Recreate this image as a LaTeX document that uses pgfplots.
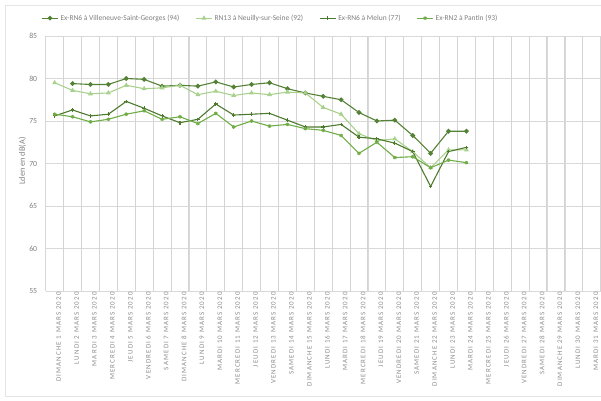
\documentclass[border=0pt]{standalone}
\usepackage{pgfplots}
\pgfplotsset{compat=1.18}
\usepackage{fontspec}
\setmainfont{Carlito}
\newfontfamily\xlab[LetterSpace=16]{Carlito}
\definecolor{cA}{HTML}{548235}
\definecolor{cB}{HTML}{A9D18E}
\definecolor{cC}{HTML}{4E7A2E}
\definecolor{cD}{HTML}{70AD47}
\definecolor{gridc}{HTML}{D9D9D9}
\definecolor{gridv}{HTML}{D4D4D4}
\definecolor{txt}{HTML}{7F7F7F}
\definecolor{txtl}{HTML}{8C8C8C}
\begin{document}
\begin{tikzpicture}[x=1pt,y=1pt]
\useasboundingbox (0,0) rectangle (601,400);
\draw[gridc!70,line width=0.6pt] (601,395) -- (5,395) -- (5,4) -- (601,4);
\begin{axis}[
  at={(45.7pt,109pt)}, anchor=south west,
  scale only axis, width=555pt, height=255pt,
  xmin=0.5, xmax=31.5, ymin=55, ymax=85,
  ytick={55,60,...,85},
  xtick={0.5,1.5,...,31.5},
  xticklabels={},
  grid=major,
  grid style={draw=gridc, line width=0.8pt},
  extra x ticks={1,...,31},
  extra x tick labels={DIMANCHE 1 MARS 2020, LUNDI 2 MARS 2020, MARDI 3 MARS 2020, MERCREDI 4 MARS 2020, JEUDI 5 MARS 2020, VENDREDI 6 MARS 2020, SAMEDI 7 MARS 2020, DIMANCHE 8 MARS 2020, LUNDI 9 MARS 2020, MARDI 10 MARS 2020, MERCREDI 11 MARS 2020, JEUDI 12 MARS 2020, VENDREDI 13 MARS 2020, SAMEDI 14 MARS 2020, DIMANCHE 15 MARS 2020, LUNDI 16 MARS 2020, MARDI 17 MARS 2020, MERCREDI 18 MARS 2020, JEUDI 19 MARS 2020, VENDREDI 20 MARS 2020, SAMEDI 21 MARS 2020, DIMANCHE 22 MARS 2020, LUNDI 23 MARS 2020, MARDI 24 MARS 2020, MERCREDI 25 MARS 2020, JEUDI 26 MARS 2020, VENDREDI 27 MARS 2020, SAMEDI 28 MARS 2020, DIMANCHE 29 MARS 2020, LUNDI 30 MARS 2020, MARDI 31 MARS 2020},
  extra x tick style={grid=none, major tick length=0pt},
  major tick length=0pt, minor tick length=0pt,
  axis line style={gridc, line width=0.8pt},
  axis x line*=bottom, axis y line*=left,
  xticklabel style={rotate=90, anchor=east, font=\xlab\fontsize{7}{8}\selectfont, text=txtl, yshift=-4pt, inner sep=1pt},
  yticklabel style={font=\fontsize{7.8}{9}\selectfont, text=txt, xshift=-5pt},
  /pgf/number format/assume math mode=true,
  ylabel={Lden en dB(A)},
  ylabel style={at={(axis description cs:-0.042,0.51)}, anchor=center, font=\fontsize{8.3}{9}\selectfont, text=txt},
  legend columns=4,
  legend style={at={(axis description cs:0.405,1.07)}, anchor=center, draw=none, fill=none, font=\fontsize{7.5}{8}\selectfont, text=txt, /tikz/every even column/.append style={column sep=14pt}, inner sep=0pt},
  legend image code/.code={\draw[#1, mark repeat=2, mark phase=2] plot coordinates {(0pt,0pt) (8pt,0pt) (16pt,0pt)};},
  every axis plot/.append style={line width=1.1pt, mark size=1.8pt},
]
\pgfplotsinvokeforeach{0,...,31}{
  \draw[gridv, line width=1pt] (axis cs:#1+0.5,55) -- (axis cs:#1+0.5,85);
}
\addplot[cA, mark=*, mark options={fill=cA}] coordinates {
(2,79.4) (3,79.3) (4,79.3) (5,80.0) (6,79.9) (7,79.1) (8,79.2) (9,79.1) (10,79.6) (11,79.0) (12,79.3) (13,79.5) (14,78.8) (15,78.3) (16,77.9) (17,77.5) (18,76.0) (19,75.0) (20,75.1) (21,73.3) (22,71.2) (23,73.8) (24,73.8)};
\addlegendentry{Ex-RN6 à Villeneuve-Saint-Georges (94)}
\addplot[cB, mark=triangle*, mark options={fill=cB}] coordinates {
(1,79.5) (2,78.6) (3,78.2) (4,78.3) (5,79.2) (6,78.8) (7,78.9) (8,79.2) (9,78.1) (10,78.5) (11,78.0) (12,78.3) (13,78.1) (14,78.4) (15,78.3) (16,76.6) (17,75.8) (18,73.5) (19,72.7) (20,72.9) (21,71.4) (22,69.5) (23,71.6) (24,71.6)};
\addlegendentry{RN13 à Neuilly-sur-Seine (92)}
\addplot[cC, mark=+] coordinates {
(1,75.6) (2,76.3) (3,75.6) (4,75.8) (5,77.3) (6,76.5) (7,75.6) (8,74.8) (9,75.2) (10,77.0) (11,75.7) (12,75.8) (13,75.9) (14,75.1) (15,74.3) (16,74.3) (17,74.6) (18,73.1) (19,72.9) (20,72.4) (21,71.4) (22,67.3) (23,71.4) (24,71.9)};
\addlegendentry{Ex-RN6 à Melun (77)}
\addplot[cD, mark=asterisk] coordinates {
(1,75.8) (2,75.5) (3,74.9) (4,75.2) (5,75.8) (6,76.2) (7,75.2) (8,75.5) (9,74.7) (10,75.9) (11,74.3) (12,75.0) (13,74.4) (14,74.6) (15,74.1) (16,73.9) (17,73.3) (18,71.2) (19,72.5) (20,70.7) (21,70.8) (22,69.5) (23,70.4) (24,70.1)};
\addlegendentry{Ex-RN2 à Pantin (93)}
\end{axis}
\end{tikzpicture}
\end{document}
